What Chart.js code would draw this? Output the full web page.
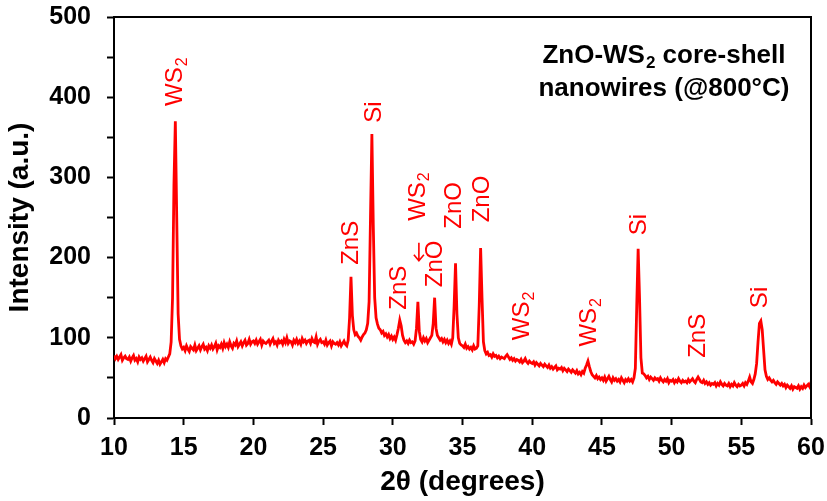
<!DOCTYPE html>
<html>
<head>
<meta charset="utf-8">
<script src="https://cdn.jsdelivr.net/npm/chart.js@4/dist/chart.umd.min.js"></script>
<style>
  html, body { margin: 0; padding: 0; background: #fff; }
  canvas { display: block; }
</style>
</head>
<body>
<canvas id="xrdChart" width="827" height="501"></canvas>
<script>
// XRD scan, 2theta from 10 to 60 deg, one reading every 0.1 deg
const twoThetaStart = 10;
const twoThetaStep = 0.1;
const intensity = [
  78,74,77,73,76,79,72,75,77,74,        // 10
  73,76,71,75,78,72,74,70,76,73,        // 11
  75,71,74,77,70,73,76,72,69,74,        // 12
  71,68,72,67,70,73,69,74,72,76,        // 13
  80,95,150,290,370,250,130,98,90,86,   // 14
  88,84,90,86,83,89,87,85,91,84,        // 15
  87,90,85,89,92,86,88,84,90,87,        // 16
  91,86,89,93,85,90,88,92,87,94,        // 17
  89,92,88,95,90,87,93,91,96,89,        // 18
  92,95,90,94,97,91,93,98,92,95,        // 19
  96,93,97,92,95,98,91,96,94,93,        // 20
  95,97,92,96,99,93,95,91,97,94,        // 21
  96,92,98,94,100,93,96,95,91,97,       // 22
  94,98,93,96,92,99,95,97,93,96,        // 23
  97,93,99,95,94,101,92,96,98,94,       // 24
  95,92,97,91,94,96,90,95,93,92,        // 25
  94,91,95,90,93,96,92,90,97,125,       // 26
  176,128,110,104,106,102,100,97,101,104, // 27
  106,110,118,145,250,354,240,150,125,117, // 28
  112,110,106,108,103,105,101,104,99,102, // 29
  98,101,97,104,112,122,115,103,97,94,  // 30
  96,93,97,94,95,92,96,112,145,108,     // 31
  98,95,100,96,99,94,97,100,103,118,    // 32
  150,112,103,100,97,99,95,98,94,97,    // 33
  93,96,92,100,140,193,130,100,93,91,   // 34
  90,88,92,87,89,86,88,85,90,86,        // 35
  87,90,140,212,150,95,84,80,82,78,     // 36
  79,76,80,77,78,75,77,74,76,75,        // 37
  74,77,79,76,73,75,72,74,71,73,        // 38
  72,70,73,69,71,74,70,68,71,69,        // 39
  68,70,66,69,67,65,68,66,64,67,        // 40
  65,63,66,62,64,61,63,65,60,62,        // 41
  61,63,59,62,60,58,61,59,57,60,        // 42
  58,56,59,55,57,54,58,56,62,66,        // 43
  71,64,58,54,52,50,53,49,51,48,        // 44
  50,47,51,46,49,52,48,45,50,47,        // 45
  49,46,48,45,50,47,44,48,46,49,        // 46
  46,48,45,50,62,140,211,150,75,56,     // 47
  55,53,50,52,48,51,49,47,50,48,        // 48
  49,46,50,47,45,48,46,49,44,47,        // 49
  46,48,44,47,45,49,46,44,47,45,        // 50
  46,44,48,45,47,49,46,44,48,51,        // 51
  48,45,44,47,43,45,42,44,41,43,        // 52
  42,44,40,43,41,45,42,40,43,41,        // 53
  40,43,39,42,40,44,41,39,42,40,        // 54
  41,43,40,44,42,46,51,45,43,48,        // 55
  55,68,95,118,121,110,85,60,52,48,     // 56
  50,47,45,47,44,42,45,43,41,43,        // 57
  40,42,38,41,39,37,40,36,39,38,        // 58
  37,40,36,39,37,41,38,40,42,39,        // 59
  45                                    // 60
];

// phase labels: arrow in front?, name, subscript, and where the text starts (2theta, intensity)
const peakArrows = [false, false, false, false, true, false, false, false, false, false, false, false, false];
const peakNames = ['WS', 'Si', 'ZnS', 'ZnS', 'WS', 'ZnO', 'ZnO', 'ZnO', 'WS', 'WS', 'Si', 'ZnS', 'Si'];
const peakSubs  = ['2', '', '', '', '2', '', '', '', '2', '2', '', '', ''];
const peakLabelX = [14.38, 28.66, 27.0, 30.44, 31.8, 33.06, 34.39, 36.43, 39.27, 44.11, 47.71, 51.89, 56.39];
const peakLabelY = [389, 368, 191, 135, 196, 163, 236, 244, 97, 89, 228, 75, 137];

const sampleLines = [['ZnO-WS', '2', ' core-shell'], ['nanowires (@800\u00b0C)', '', '']];
const sampleX = 49.45;
const sampleY = [452, 411];

const FONT = "'Liberation Sans', Arial, sans-serif";
const RED = '#ff0000';

const points = intensity.map((v, i) => ({ x: +(twoThetaStart + i * twoThetaStep).toFixed(1), y: v }));

// draws "main" + lowered small "sub" + "tail" starting at the current origin
function drawSubText(ctx, main, sub, tail, size, bold) {
    const w = bold ? 'bold ' : '';
    ctx.font = w + size + 'px ' + FONT;
    ctx.fillText(main, 0, 0);
    let dx = ctx.measureText(main).width;
    if (sub) {
        ctx.font = w + Math.round(size * 0.66) + 'px ' + FONT;
        ctx.fillText(sub, dx + 1, size * 0.3);
        dx += ctx.measureText(sub).width + 1;
    }
    if (tail) {
        ctx.font = w + size + 'px ' + FONT;
        ctx.fillText(tail, dx, 0);
    }
}

function textWidth(ctx, main, sub, tail, size, bold) {
    const w = bold ? 'bold ' : '';
    ctx.font = w + size + 'px ' + FONT;
    let total = ctx.measureText(main + tail).width;
    if (sub) {
        ctx.font = w + Math.round(size * 0.66) + 'px ' + FONT;
        total += ctx.measureText(sub).width + 1;
    }
    return total;
}

// thin arrow pointing back to the origin (toward the peak once rotated)
function drawArrow(ctx, len) {
    ctx.strokeStyle = RED;
    ctx.lineWidth = 1.6;
    ctx.beginPath();
    ctx.moveTo(len, 1);
    ctx.lineTo(0, 1);
    ctx.moveTo(6, -4);
    ctx.lineTo(0, 1);
    ctx.lineTo(6, 6);
    ctx.stroke();
}

const annotations = {
    id: 'annotations',
    afterDatasetsDraw(chart) {
        const { ctx, scales: { x, y }, chartArea } = chart;
        ctx.save();

        // frame on top and right
        ctx.strokeStyle = '#000';
        ctx.lineWidth = 2;
        ctx.beginPath();
        ctx.moveTo(chartArea.left, chartArea.top);
        ctx.lineTo(chartArea.right, chartArea.top);
        ctx.lineTo(chartArea.right, chartArea.bottom);
        ctx.stroke();

        // rotated peak labels
        ctx.fillStyle = RED;
        ctx.textBaseline = 'middle';
        ctx.textAlign = 'left';
        peakNames.forEach((name, i) => {
            ctx.save();
            ctx.translate(x.getPixelForValue(peakLabelX[i]), y.getPixelForValue(peakLabelY[i]));
            ctx.rotate(-Math.PI / 2);
            if (peakArrows[i]) {
                drawArrow(ctx, 18);
                ctx.translate(40, 0);
            }
            drawSubText(ctx, name, peakSubs[i], '', 24, false);
            ctx.restore();
        });

        // sample description
        ctx.fillStyle = '#000';
        sampleLines.forEach((parts, i) => {
            const wdt = textWidth(ctx, parts[0], parts[1], parts[2], 26, true);
            ctx.save();
            ctx.translate(x.getPixelForValue(sampleX) - wdt / 2, y.getPixelForValue(sampleY[i]));
            drawSubText(ctx, parts[0], parts[1], parts[2], 26, true);
            ctx.restore();
        });

        ctx.restore();
    }
};

const tickFont = { family: FONT, size: 25, weight: 'bold' };
const titleFont = { family: FONT, size: 28, weight: 'bold' };

new Chart(document.getElementById('xrdChart'), {
    type: 'line',
    data: {
        datasets: [{
            data: points,
            borderColor: RED,
            borderWidth: 2.8,
            pointRadius: 0,
            tension: 0,
            fill: false
        }]
    },
    options: {
        responsive: false,
        animation: false,
        devicePixelRatio: 1,
        layout: { padding: { top: 17, right: 16, left: 0, bottom: 0 } },
        plugins: { legend: { display: false }, tooltip: { enabled: false } },
        scales: {
            x: {
                type: 'linear',
                min: 10,
                max: 60,
                afterFit: s => { s.height = 83; s.paddingLeft = 0; s.paddingRight = 0; },
                ticks: { stepSize: 5, color: '#000', font: tickFont, padding: 8, maxRotation: 0, autoSkip: false },
                grid: { drawOnChartArea: false, tickLength: 7, tickWidth: 2, tickColor: '#000' },
                border: { color: '#000', width: 2 },
                title: { display: true, text: '2\u03b8 (degrees)', color: '#000', font: titleFont, padding: { top: 0, bottom: 2 } }
            },
            y: {
                min: 0,
                max: 500,
                afterFit: s => { s.width = 114; s.paddingTop = 0; s.paddingBottom = 0; },
                ticks: {
                    stepSize: 50,
                    autoSkip: false,
                    color: '#000',
                    font: tickFont,
                    padding: 16,
                    callback: v => (v % 100 === 0 ? v : '')
                },
                grid: { drawOnChartArea: false, tickLength: 7, tickWidth: 2, tickColor: '#000' },
                border: { color: '#000', width: 2 },
                title: { display: true, text: 'Intensity (a.u.)', color: '#000', font: titleFont, padding: { top: 3, bottom: 0 } }
            }
        }
    },
    plugins: [annotations]
});
</script>
</body>
</html>
